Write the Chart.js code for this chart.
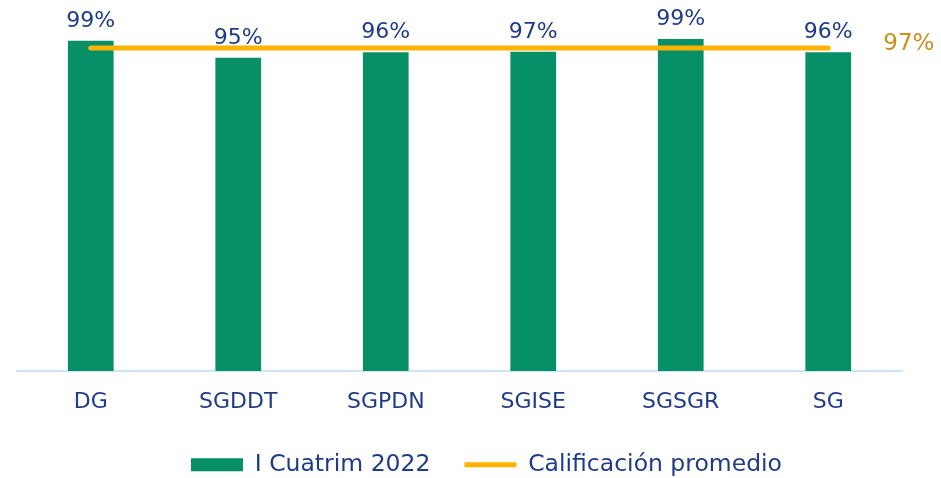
<!DOCTYPE html>
<html>
<head>
<meta charset="utf-8">
<script src="https://cdn.jsdelivr.net/npm/chart.js@4"></script>
<style>
  html, body { margin: 0; padding: 0; background: #fff; }
  #wrap { width: 941px; height: 478px; }
</style>
</head>
<body>
<div id="wrap"><canvas id="califChart"></canvas></div>
<script>
const categories = ['DG', 'SGDDT', 'SGPDN', 'SGISE', 'SGSGR', 'SG'];
const cuatrimValues = [0.992, 0.941, 0.957, 0.959, 0.997, 0.957];
const cuatrimLabels = ['99%', '95%', '96%', '97%', '99%', '96%'];
const promedioValues = [0.97, 0.97, 0.97, 0.97, 0.97, 0.97];
const promedioLabel = '97%';

const FONT = '"DejaVu Sans", sans-serif';
const BLUE_TEXT = '#1F3C85';

// draws the value labels (no datalabels plugin available offline)
const valueLabels = {
    id: 'valueLabels',
    afterDatasetsDraw(chart) {
        const ctx = chart.ctx;
        ctx.save();
        ctx.font = '22px ' + FONT;
        ctx.textAlign = 'center';
        ctx.textBaseline = 'alphabetic';
        ctx.fillStyle = BLUE_TEXT;
        chart.getDatasetMeta(0).data.forEach((bar, i) => {
            ctx.fillText(cuatrimLabels[i], bar.x, bar.y - 14);
        });
        const pts = chart.getDatasetMeta(1).data;
        const last = pts[pts.length - 1];
        ctx.font = '23px ' + FONT;
        ctx.fillStyle = '#C8911C';
        ctx.textAlign = 'left';
        ctx.fillText(promedioLabel, last.x + 55, last.y + 2);
        ctx.restore();
    }
};

// fixed legend height + nudge it right, like the original
const legendTweak = {
    id: 'legendTweak',
    beforeLayout(chart) {
        const lg = chart.legend;
        if (lg && !lg._tweaked) {
            const fit = lg.fit.bind(lg);
            lg.fit = function () { fit(); this.height = 59; };
            lg._tweaked = true;
        }
    },
    afterLayout(chart) {
        chart.legend.left += 27;
        chart.legend.right += 27;
    }
};

function createChart() {
    const ctx = document.getElementById('califChart').getContext('2d');
    new Chart(ctx, {
        data: {
            labels: categories,
            datasets: [{
                type: 'bar',
                label: 'I Cuatrim 2022',
                data: cuatrimValues,
                backgroundColor: '#078F68',
                borderWidth: 0,
                barPercentage: 0.62,
                categoryPercentage: 0.5,
                pointStyle: 'rect',
                order: 2
            }, {
                type: 'line',
                label: 'Calificación promedio',
                data: promedioValues,
                borderColor: '#FFB300',
                backgroundColor: '#FFB300',
                borderWidth: 5,
                borderCapStyle: 'round',
                pointRadius: 0,
                pointStyle: 'line',
                order: 1
            }]
        },
        options: {
            responsive: true,
            maintainAspectRatio: false,
            animation: false,
            layout: { padding: { left: 17, right: 39, top: 38, bottom: 0 } },
            scales: {
                x: {
                    grid: { display: false },
                    border: { display: true, color: '#CCE5FA', width: 2 },
                    ticks: { color: BLUE_TEXT, font: { family: FONT, size: 22 }, padding: 10 },
                    afterFit: (scale) => { scale.height = 48; }
                },
                y: { display: false, min: 0, max: 1 }
            },
            plugins: {
                tooltip: { enabled: false },
                legend: {
                    position: 'bottom',
                    labels: {
                        usePointStyle: true,
                        pointStyleWidth: 52,
                        boxHeight: 13,
                        color: BLUE_TEXT,
                        font: { family: FONT, size: 23.5 },
                        padding: 34,
                        sort: (a, b) => a.datasetIndex - b.datasetIndex
                    }
                }
            }
        },
        plugins: [valueLabels, legendTweak]
    });
}

window.onload = createChart;
</script>
</body>
</html>
